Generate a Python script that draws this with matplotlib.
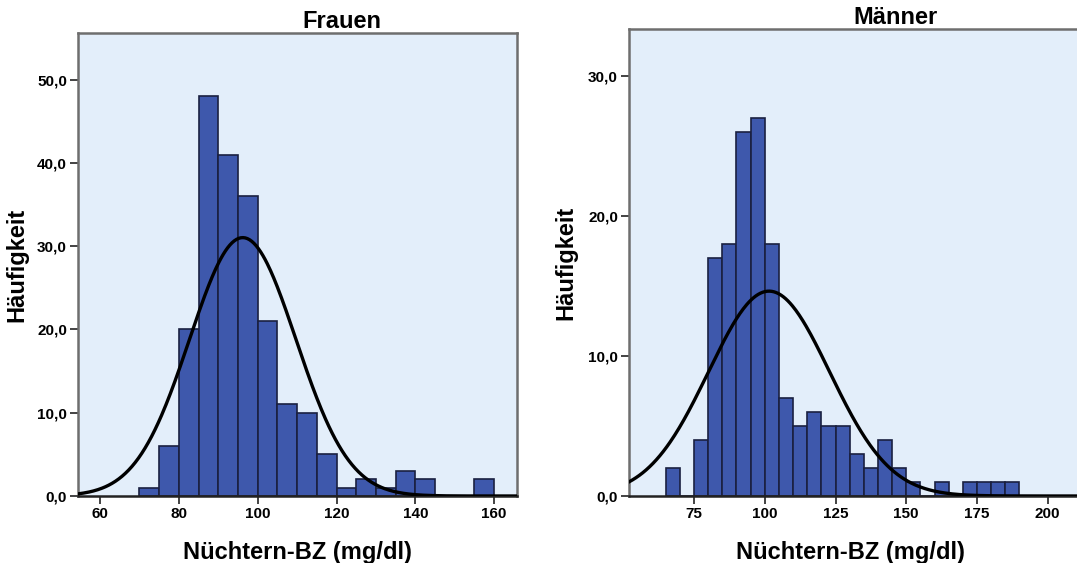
import numpy as np
import matplotlib
matplotlib.use("Agg")
import matplotlib.pyplot as plt

plt.rcParams["font.family"] = ["Liberation Sans", "DejaVu Sans"]
plt.rcParams["font.weight"] = "bold"

# ---------------- data ----------------
BIN_WIDTH = 5

frauen_bin_left = [70, 75, 80, 85, 90, 95, 100, 105, 110, 115, 120, 125, 130, 135, 140, 145, 150, 155]
frauen_counts = [1, 6, 20, 48, 41, 36, 21, 11, 10, 5, 1, 2, 1, 3, 2, 0, 0, 2]
frauen_mean = 96.2
frauen_sd = 13.5

maenner_bin_left = [65, 70, 75, 80, 85, 90, 95, 100, 105, 110, 115, 120, 125, 130,
                    135, 140, 145, 150, 155, 160, 165, 170, 175, 180, 185]
maenner_counts = [2, 0, 4, 17, 18, 26, 27, 18, 7, 5, 6, 5, 5, 3,
                  2, 4, 2, 1, 0, 1, 0, 1, 1, 1, 1]
maenner_mean = 101.5
maenner_sd = 21.4

frauen_xticks = [60, 80, 100, 120, 140, 160]
frauen_yticks = [0, 10, 20, 30, 40, 50]
maenner_xticks = [75, 100, 125, 150, 175, 200]
maenner_yticks = [0, 10, 20, 30]

BG = "#E3EEFA"
BAR = "#3E58AC"
EDGE = "#1A2040"


def normal_curve(x, n, mean, sd):
    return n * BIN_WIDTH / (sd * np.sqrt(2 * np.pi)) * np.exp(-0.5 * ((x - mean) / sd) ** 2)


def draw_panel(ax, lefts, counts, mean, sd, xlim, ylim, xticks, yticks):
    ax.set_facecolor(BG)
    ax.bar(lefts, counts, width=BIN_WIDTH, align="edge", color=BAR,
           edgecolor=EDGE, linewidth=1.2, zorder=2)
    xs = np.linspace(xlim[0], xlim[1], 400)
    ax.plot(xs, normal_curve(xs, sum(counts), mean, sd), color="black", lw=2.4, zorder=3)
    ax.set_xlim(*xlim)
    ax.set_ylim(*ylim)
    ax.set_xticks(xticks)
    ax.set_xticklabels([str(t) for t in xticks])
    ax.set_yticks(yticks)
    ax.set_yticklabels([f"{t:.1f}".replace(".", ",") for t in yticks])
    for s in ["left", "top", "right"]:
        ax.spines[s].set_color("#6E6E6E")
        ax.spines[s].set_linewidth(1.8)
    ax.spines["bottom"].set_color("#222222")
    ax.spines["bottom"].set_linewidth(1.8)
    ax.tick_params(axis="both", direction="out", length=6, width=1.2,
                   color="#222222", labelsize=11, pad=2)
    ax.set_ylabel("Häufigkeit", fontsize=17, fontweight="bold")
    ax.set_xlabel("Nüchtern-BZ (mg/dl)", fontsize=17, fontweight="bold")


fig = plt.figure(figsize=(10.77, 5.63), dpi=100)

ax1 = fig.add_axes([78 / 1077, 67 / 563, 439 / 1077, 463 / 563])
draw_panel(ax1, frauen_bin_left, frauen_counts, frauen_mean, frauen_sd,
           (54.4, 165.8), (0, 55.6), frauen_xticks, frauen_yticks)
ax1.set_title("Frauen", fontsize=17, fontweight="bold", x=0.6, pad=1)
ax1.xaxis.set_label_coords(0.5, -0.097)
ax1.yaxis.set_label_coords(-0.112, 0.5)

# right panel runs past the figure edge, as in the original export
ax2 = fig.add_axes([629 / 1077, 67 / 563, 456 / 1077, 467 / 563])
draw_panel(ax2, maenner_bin_left, maenner_counts, maenner_mean, maenner_sd,
           (52.0, 213.2), (0, 33.36), maenner_xticks, maenner_yticks)
ax2.set_title("Männer", fontsize=17, fontweight="bold", x=0.585, pad=-4)
ax2.xaxis.set_label_coords(0.485, -0.096)
ax2.yaxis.set_label_coords(-0.114, 0.5)

fig.savefig("out.png", dpi=100)
